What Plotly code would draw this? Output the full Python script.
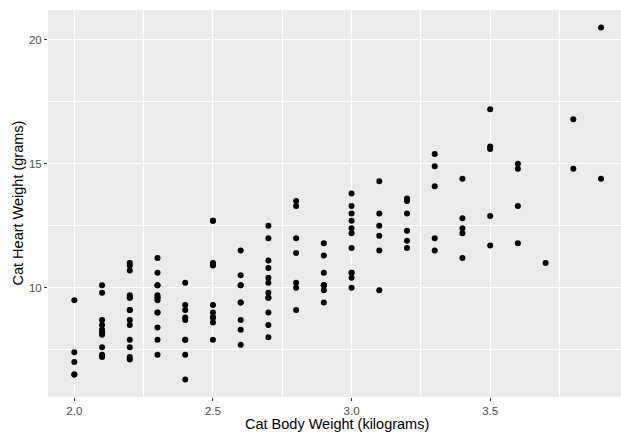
import plotly.graph_objects as go

# MASS::cats data (Body weight kg, Heart weight g)
bwt = [2.0, 2.0, 2.0, 2.1, 2.1, 2.1, 2.1, 2.1, 2.1, 2.1, 2.1, 2.1, 2.2, 2.2, 2.2, 2.2, 2.2, 2.2,
       2.3, 2.3, 2.3, 2.3, 2.3, 2.3, 2.3, 2.3, 2.3, 2.3, 2.3, 2.3, 2.4, 2.4, 2.4, 2.4, 2.5, 2.5,
       2.6, 2.6, 2.6, 2.7, 2.7, 2.7, 2.9, 2.9, 2.9, 3.0, 3.0,
       2.0, 2.0, 2.1, 2.2, 2.2, 2.2, 2.2, 2.2, 2.2, 2.2, 2.2, 2.3, 2.4, 2.4, 2.4, 2.4, 2.4,
       2.5, 2.5, 2.5, 2.5, 2.5, 2.5, 2.5, 2.5, 2.6, 2.6, 2.6, 2.6, 2.6, 2.6,
       2.7, 2.7, 2.7, 2.7, 2.7, 2.7, 2.7, 2.7, 2.7, 2.8, 2.8, 2.8, 2.8, 2.8, 2.8, 2.8,
       2.9, 2.9, 2.9, 2.9, 2.9, 3.0, 3.0, 3.0, 3.0, 3.0, 3.0, 3.0, 3.0, 3.0,
       3.1, 3.1, 3.1, 3.1, 3.1, 3.1, 3.2, 3.2, 3.2, 3.2, 3.2, 3.2, 3.3, 3.3, 3.3, 3.3, 3.3,
       3.4, 3.4, 3.4, 3.4, 3.4, 3.5, 3.5, 3.5, 3.5, 3.5, 3.6, 3.6, 3.6, 3.6, 3.7, 3.8, 3.8,
       3.9, 3.9]
hwt = [7.0, 7.4, 9.5, 7.2, 7.3, 7.6, 8.1, 8.2, 8.3, 8.5, 8.7, 9.8, 7.1, 8.7, 9.1, 9.7, 10.9, 11.0,
       7.3, 7.9, 8.4, 9.0, 9.0, 9.5, 9.6, 9.7, 10.1, 10.1, 10.6, 11.2, 6.3, 8.7, 8.8, 10.2, 9.0, 10.9,
       8.7, 10.1, 10.1, 8.5, 10.2, 10.8, 9.9, 10.1, 10.1, 10.6, 13.0,
       6.5, 6.5, 10.1, 7.2, 7.6, 7.9, 8.5, 9.1, 9.6, 9.6, 10.7, 9.6, 7.3, 7.9, 7.9, 9.1, 9.3,
       7.9, 8.6, 8.8, 8.8, 9.3, 11.0, 12.7, 12.7, 7.7, 8.3, 9.4, 9.4, 10.5, 11.5,
       8.0, 9.0, 9.6, 9.6, 9.8, 10.4, 11.1, 12.0, 12.5, 9.1, 10.0, 10.2, 11.4, 12.0, 13.3, 13.5,
       9.4, 10.1, 10.6, 11.3, 11.8, 10.0, 10.4, 10.6, 11.6, 12.2, 12.4, 12.7, 13.3, 13.8,
       9.9, 11.5, 12.1, 12.5, 13.0, 14.3, 11.6, 11.9, 12.3, 13.0, 13.5, 13.6, 11.5, 12.0, 14.1, 14.9, 15.4,
       11.2, 12.2, 12.4, 12.8, 14.4, 11.7, 12.9, 15.6, 15.7, 17.2, 11.8, 13.3, 14.8, 15.0, 11.0, 14.8, 16.8,
       14.4, 20.5]

x_ticks = [2.0, 2.5, 3.0, 3.5]
x_tick_labels = ["2.0", "2.5", "3.0", "3.5"]
x_minor = [2.25, 2.75, 3.25, 3.75]
y_ticks = [10, 15, 20]
y_tick_labels = ["10", "15", "20"]
y_minor = [7.5, 12.5, 17.5]
x_title = "Cat Body Weight (kilograms)"
y_title = "Cat Heart Weight (grams)"

FONT = "Liberation Sans, Arial, sans-serif"

fig = go.Figure(go.Scatter(
    x=bwt, y=hwt, mode="markers",
    marker=dict(color="black", size=6, line=dict(width=0)),
    hoverinfo="x+y",
))

axis_common = dict(
    automargin=False,
    showgrid=True, gridcolor="white", gridwidth=1.1,
    zeroline=False, showline=False,
    ticks="outside", ticklen=3, tickwidth=1, tickcolor="#333333",
    tickfont=dict(family=FONT, size=11.5, color="#4D4D4D"),
)

fig.update_layout(
    width=621, height=433,
    margin=dict(l=48, r=0, t=10, b=36, autoexpand=False),
    paper_bgcolor="white", plot_bgcolor="#EBEBEB",
    showlegend=False,
    xaxis=dict(range=[1.905, 3.972], tickvals=x_ticks, ticktext=x_tick_labels,
               minor=dict(showgrid=True, gridcolor="white", gridwidth=0.5, ticks="",
                          tickvals=x_minor),
               **axis_common),
    yaxis=dict(range=[5.59, 21.21], tickvals=y_ticks, ticktext=y_tick_labels,
               minor=dict(showgrid=True, gridcolor="white", gridwidth=0.5, ticks="",
                          tickvals=y_minor),
               **axis_common),
    annotations=[
        dict(text=x_title, xref="paper", yref="paper", x=0.505, y=0,
             yshift=-27, yanchor="middle", xanchor="center", showarrow=False,
             font=dict(family=FONT, size=14.5, color="black")),
        dict(text=y_title, xref="paper", yref="paper", x=0, y=0.5,
             xshift=-31, xanchor="center", yanchor="middle", textangle=-90,
             showarrow=False, font=dict(family=FONT, size=14.5, color="black")),
    ],
)

fig.write_html(
    "out.html",
    config={"displayModeBar": False},
    post_script="document.body.style.margin='0';document.body.style.overflow='hidden';",
)
